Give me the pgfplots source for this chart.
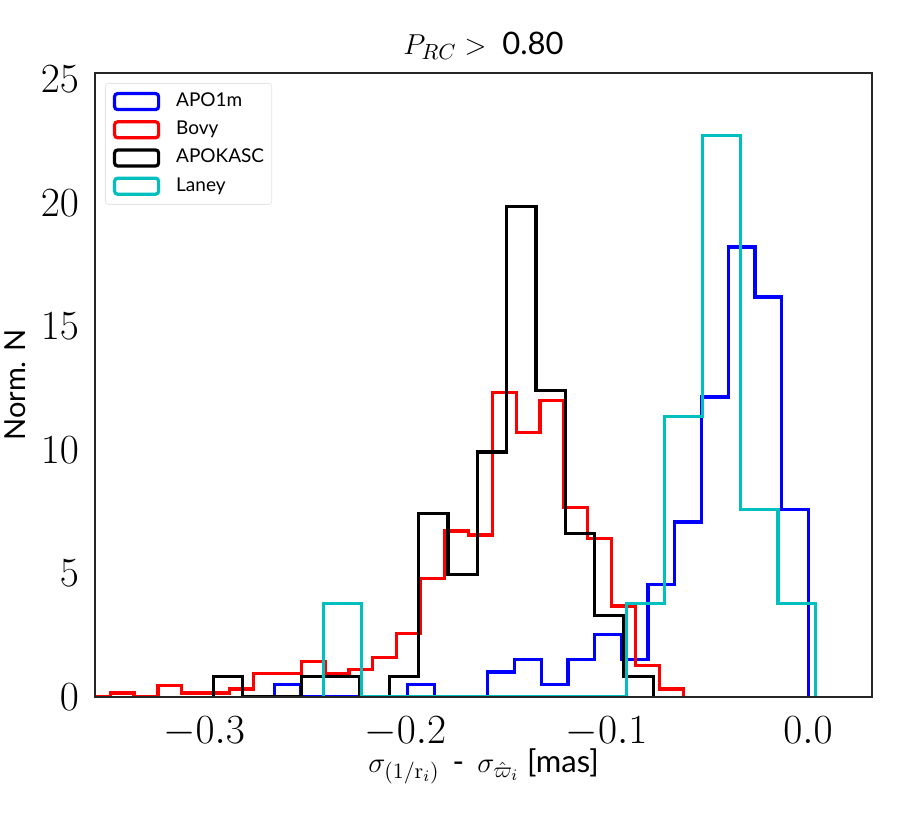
\documentclass[border=0pt]{standalone}
\usepackage[no-math]{fontspec}
\setmainfont{Lato}
\usepackage{pgfplots}
\pgfplotsset{compat=1.18}
\definecolor{cyanc}{rgb}{0,0.75,0.75}
\definecolor{framec}{gray}{0.15}
\begin{document}
\begin{tikzpicture}
\begin{axis}[
  at={(0pt,0pt)}, anchor=south west,
  scale only axis, width=388.5pt, height=312pt,
  xmin=-0.3542, xmax=0.0318, ymin=0, ymax=25.26,
  xtick={-0.3,-0.2,-0.1,0}, xticklabels={$-0.3$,$-0.2$,$-0.1$,$0.0$},
  ytick={0,5,10,15,20,25},
  major tick length=0pt,
  tick label style={font=\fontsize{21}{21}\selectfont},
  xticklabel style={anchor=base, yshift=-23pt},
  yticklabel style={xshift=-4.5pt},
  axis line style={framec, line width=1.25pt},
  axis on top,
  every axis title shift=0pt,
  title={$P_{RC} >\;$ 0.80},
  title style={at={(axis description cs:0.5,1.0304)}, anchor=base, yshift=0pt, font=\fontsize{15.5}{18}\selectfont},
  xlabel={$\sigma_{(1/\mathrm{r}_i)}$\, - \,$\sigma_{\hat{\varpi}_i}$ [mas]},
  xlabel style={at={(axis description cs:0.5,-0.1202)}, anchor=base, yshift=0pt, font=\fontsize{15.5}{18}\selectfont},
  ylabel={Norm. N},
  ylabel style={at={(axis description cs:-0.089,0.5)}, anchor=base, font=\fontsize{14.5}{17}\selectfont},
  legend cell align=left,
  legend style={at={(axis description cs:0,1)}, anchor=north west, xshift=5pt, yshift=-5pt,
    draw=black!10, fill=white, rounded corners=1.5pt,
    font=\fontsize{9.5}{11}\selectfont, inner xsep=3.8pt, inner ysep=4.3pt,
    row sep=4.5pt, column sep=8pt,
    nodes={text height=7pt, text depth=2pt, inner sep=0pt}},
  legend image code/.code={\draw[#1, line width=1.6pt] (0pt,-4pt) rectangle (22pt,4pt);},
  every axis plot/.append style={line width=1.6pt, const plot mark left},
]
\addplot[blue] coordinates {(-0.26513,0) (-0.26513,0.506) (-0.25187,0) (-0.23860,0) (-0.22534,0) (-0.21208,0) (-0.19881,0.506) (-0.18555,0) (-0.17228,0) (-0.15902,1.012) (-0.14576,1.518) (-0.13249,0.506) (-0.11923,1.518) (-0.10596,2.530) (-0.09270,1.518) (-0.07944,4.554) (-0.06617,7.084) (-0.05291,12.144) (-0.03964,18.216) (-0.02638,16.192) (-0.01312,7.590) (0.00015,0)};
\addlegendentry{APO1m}
\addplot[red] coordinates {(-0.35852,0) (-0.34666,0.16) (-0.33479,0) (-0.32293,0.48) (-0.31107,0.16) (-0.29920,0.16) (-0.28734,0.32) (-0.27548,0.96) (-0.26362,0.96) (-0.25175,1.44) (-0.23989,0.96) (-0.22803,1.12) (-0.21616,1.60) (-0.20430,2.56) (-0.19244,4.80) (-0.18057,6.72) (-0.16871,6.56) (-0.15685,12.32) (-0.14499,10.72) (-0.13312,12.00) (-0.12126,7.68) (-0.10940,6.40) (-0.09753,3.68) (-0.08567,1.28) (-0.07381,0.32) (-0.06194,0)};
\addlegendentry{Bovy}
\addplot[black] coordinates {(-0.29543,0) (-0.29543,0.827) (-0.28086,0) (-0.26629,0) (-0.25172,0.827) (-0.23715,0.827) (-0.22257,0) (-0.20800,0.827) (-0.19343,7.44) (-0.17886,4.96) (-0.16429,9.92) (-0.14972,19.85) (-0.13515,12.40) (-0.12057,6.62) (-0.10600,3.31) (-0.09143,0.827) (-0.07686,0)};
\addlegendentry{APOKASC}
\addplot[cyanc] coordinates {(-0.2408,0) (-0.2408,3.79) (-0.2220,0) (-0.2031,0) (-0.1843,0) (-0.1655,0) (-0.1467,0) (-0.1278,0) (-0.1090,0) (-0.0902,3.79) (-0.0714,11.37) (-0.0525,22.74) (-0.0337,7.58) (-0.0149,3.79) (0.0039,0)};
\addlegendentry{Laney}
\end{axis}
\pgfresetboundingbox
\useasboundingbox (-47.5pt,-68pt) rectangle (401pt,348.5pt);
\end{tikzpicture}
\end{document}
